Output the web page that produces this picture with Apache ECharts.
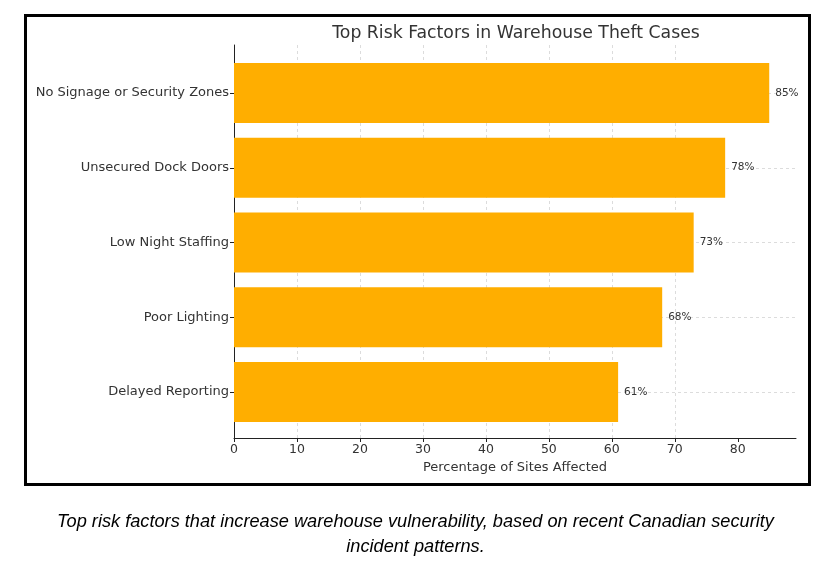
<!DOCTYPE html>
<html>
<head>
<meta charset="utf-8">
<script src="https://cdn.jsdelivr.net/npm/echarts@6/dist/echarts.min.js"></script>
<style>
  body { margin: 0; background: #fff; }
  #wrap { position: relative; width: 831px; height: 570px; }
  #chart { position: absolute; left: 0; top: 0; width: 831px; height: 570px; }
  #frame { position: absolute; left: 24px; top: 14px; width: 787px; height: 472px;
           border: 3px solid #000; box-sizing: border-box; pointer-events: none; }
  #caption { position: absolute; left: 0; top: 509px; width: 831px; text-align: center;
             font: italic 18.2px "Liberation Sans", Arial, sans-serif; line-height: 25px; color: #000; }
</style>
</head>
<body>
<div id="wrap">
  <div id="chart"></div>
  <div id="frame"></div>
  <div id="caption">Top risk factors that increase warehouse vulnerability, based on recent Canadian security<br>incident patterns.</div>
</div>
<script>
var categories = ['No Signage or Security Zones', 'Unsecured Dock Doors', 'Low Night Staffing', 'Poor Lighting', 'Delayed Reporting'];
var values = [85, 78, 73, 68, 61];
var xTicks = [0, 10, 20, 30, 40, 50, 60, 70, 80];

var font = 'DejaVu Sans';
var chart = echarts.init(document.getElementById('chart'));

var option = {
    animation: false,
    title: {
        text: 'Top Risk Factors in Warehouse Theft Cases',
        left: 511,
        top: 20,
        textAlign: 'center',
        textStyle: {fontFamily: font, fontSize: 17.3, fontWeight: 'normal', color: '#333'}
    },
    grid: [
        {left: 234, top: 45, width: 562, height: 393},
        {left: 234, top: 93, width: 562, height: 299}
    ],
    xAxis: [
        {
            gridIndex: 0,
            type: 'value',
            min: 0,
            max: 89.25,
            interval: 10,
            axisLine: {show: true, lineStyle: {color: '#222', width: 1}},
            axisTick: {show: true, length: 4, customValues: xTicks, lineStyle: {color: '#222'}},
            axisLabel: {
                fontFamily: font, fontSize: 12.5, color: '#333', margin: 5,
                customValues: xTicks
            },
            splitLine: {show: true, showMaxLine: false, lineStyle: {type: [3, 3], color: '#d4d4d4', width: 0.8}},
            name: 'Percentage of Sites Affected',
            nameLocation: 'middle',
            nameGap: 21,
            nameTextStyle: {fontFamily: font, fontSize: 13, color: '#333'}
        },
        {
            gridIndex: 1,
            type: 'value',
            min: 0,
            max: 89.25,
            show: false
        }
    ],
    yAxis: [
        {
            gridIndex: 0,
            type: 'value',
            min: 0,
            max: 1,
            axisLine: {show: true, lineStyle: {color: '#222', width: 1}},
            axisTick: {show: false},
            axisLabel: {show: false},
            splitLine: {show: false}
        },
        {
            gridIndex: 1,
            type: 'category',
            data: categories,
            inverse: true,
            boundaryGap: false,
            axisLine: {show: false},
            axisTick: {show: true, length: 4, lineStyle: {color: '#222'}},
            axisLabel: {fontFamily: font, fontSize: 13, color: '#333', margin: 5},
            splitLine: {show: true, lineStyle: {type: [3, 3], color: '#d4d4d4', width: 0.8}}
        }
    ],
    series: [
        {
            type: 'bar',
            xAxisIndex: 1,
            yAxisIndex: 1,
            data: values,
            barWidth: 60,
            itemStyle: {color: '#ffae00'},
            label: {
                show: true,
                position: 'right',
                distance: 6,
                formatter: '{c}%',
                fontFamily: font,
                fontSize: 10.5,
                color: '#333'
            }
        }
    ]
};

chart.setOption(option);
</script>
</body>
</html>
